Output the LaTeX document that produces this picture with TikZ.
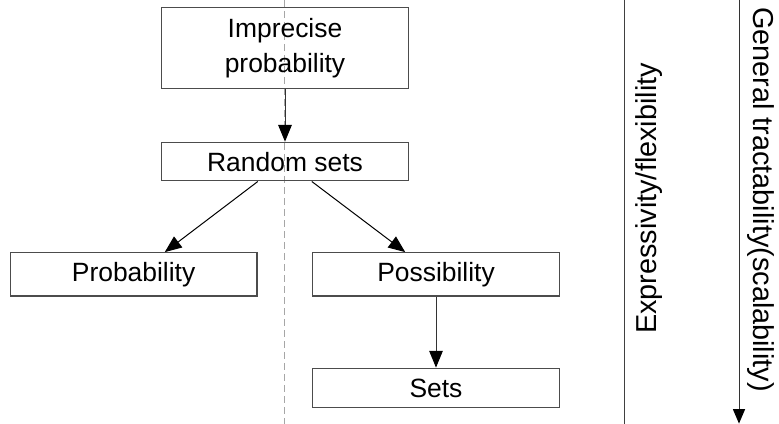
\documentclass[tikz,border=0pt]{standalone}
\usepackage{fontspec}
\setmainfont{Liberation Sans}
\usetikzlibrary{arrows.meta}
\begin{document}
\begin{tikzpicture}[
 box/.style={draw=black!70,line width=0.35mm,minimum width=61.65mm,inner sep=0mm,
  align=center,font=\fontsize{18.8pt}{24.5pt}\selectfont},
 link/.style={-{Triangle[length=4.2mm,width=3.4mm,black]},line width=0.25mm,black!80},
 side/.style={font=\fontsize{20.5pt}{24pt}\selectfont,inner sep=0mm,anchor=base}]
\useasboundingbox (0mm,0mm) rectangle (194.75mm,-106mm);
% dashed middle line
\coordinate (mid top) at (71.2mm,0mm);
\coordinate (mid bottom) at (71.2mm,-106mm);
\path[draw,black!35,line width=0.33mm,dash pattern=on 1.75mm off 1mm]
 (mid top) to (mid bottom) ;
% boxes
\node[box,minimum height=20.15mm] (imprecise) at (71.25mm,-12mm)
 {Imprecise\\probability};
\node[box,minimum height=9.6mm] (random) at (71.25mm,-40.4mm) {Random sets};
\node[box,minimum height=10.8mm] (prob) at (33.4mm,-68.6mm) {Probability};
\node[box,minimum height=10.8mm] (poss) at (109mm,-68.6mm) {Possibility};
\node[box,minimum height=9.85mm] (sets) at (109mm,-97mm) {Sets};
% arrows between boxes
\path[link,draw] (imprecise) to (random) ;
\path[link,draw,black] ([xshift=-6.8mm]random.south) to ([xshift=7.8mm]prob.north) ;
\path[link,draw,black] ([xshift=6.7mm]random.south) to ([xshift=-7.7mm]poss.north) ;
\path[link,draw] (poss) to (sets) ;
% side scales
\coordinate (exp top) at (156.1mm,0mm);
\coordinate (exp bottom) at (156.1mm,-106mm);
\path[draw,black!75,line width=0.3mm] (exp top) to (exp bottom) ;
\node[side,rotate=90] (exp) at (164.1mm,-49.6mm) {Expressivity/flexibility};
\coordinate (trac top) at (184.75mm,0mm);
\coordinate (trac bottom) at (184.75mm,-105.9mm);
\path[link,draw,-{Triangle[length=3.6mm,width=3mm,black]}] (trac top) to (trac bottom) ;
\node[side,rotate=-90] (trac) at (188.3mm,-49.9mm) {General tractability(scalability)};
\end{tikzpicture}
\end{document}
